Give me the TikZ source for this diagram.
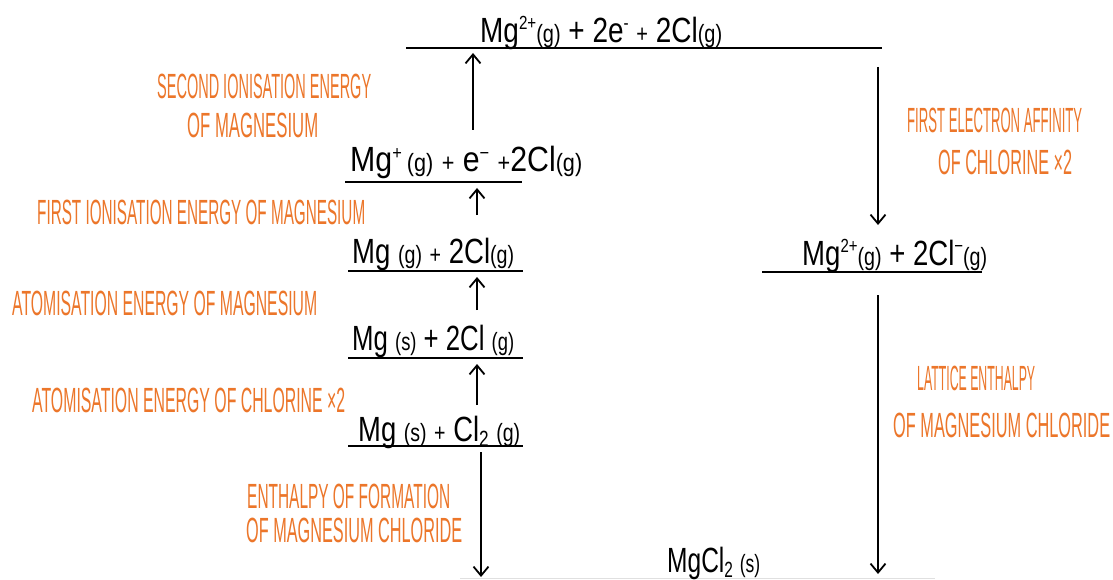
\documentclass[tikz,border=0pt]{standalone}
\usepackage{fontspec}
\usepackage{graphicx}
\setmainfont{Liberation Sans}
\usetikzlibrary{arrows.meta}
\definecolor{lab}{RGB}{236,118,42}
\newcommand{\hw}[2]{\resizebox{#1}{\height}{#2}}
\newcommand{\sm}[1]{{\fontsize{25}{25}\selectfont #1}}
\newcommand{\sups}[1]{\raisebox{13pt}{\fontsize{19}{19}\selectfont #1}}
\newcommand{\subs}[1]{\raisebox{-5pt}{\fontsize{22}{22}\selectfont #1}}
\tikzset{
  lbl/.style={text=lab, inner sep=0pt, anchor=base west, font=\fontsize{35}{35}\selectfont},
  chem/.style={text=black, inner sep=0pt, anchor=base west, font=\fontsize{35}{35}\selectfont},
  level/.style={line width=2.2pt, black},
  faint/.style={line width=1pt, black!12},
  arr/.style={line width=1.8pt, black, -{Straight Barb[length=9pt,width=15pt,line width=1.8pt]}}
}
\begin{document}
\begin{tikzpicture}[x=1pt,y=-1pt]
\useasboundingbox (0,0) rectangle (1113,580);
\fill[white] (0,0) rectangle (1113,580);

% level lines
\coordinate (t1) at (406,48);  \coordinate (t2) at (882,48);
\coordinate (p1) at (345,182); \coordinate (p2) at (522,182);
\coordinate (g1) at (348,271); \coordinate (g2) at (523,271);
\coordinate (s1) at (348,358); \coordinate (s2) at (523,358);
\coordinate (c1) at (348,446); \coordinate (c2) at (523,446);
\coordinate (r1) at (762,272); \coordinate (r2) at (982,272);
\coordinate (b1) at (460,578); \coordinate (b2) at (935,578);
\draw[level] (t1) -- (t2);
\draw[level] (p1) -- (p2);
\draw[level] (g1) -- (g2);
\draw[level] (s1) -- (s2);
\draw[level] (c1) -- (c2);
\draw[level] (r1) -- (r2);
\draw[faint] (b1) -- (b2);

% chemical texts
\node[chem] (top) at (480,43) {\hw{242pt}{Mg\sups{2+}\sm{(g)} + 2e\sups{-} \sm{+} 2Cl\sm{(g)}}};
\node[chem] (mgp) at (350,172) {\hw{232pt}{Mg\sups{+}\,\sm{(g)} \sm{+} e\sups{−} \sm{+}2Cl\sm{(g)}}};
\node[chem] (mgg) at (352,263) {\hw{162pt}{Mg \sm{(g)} \sm{+} 2Cl\sm{(g)}}};
\node[chem] (mgs) at (352,350) {\hw{162pt}{Mg \sm{(s)} + 2Cl \sm{(g)}}};
\node[chem] (mgc) at (358,441) {\hw{162pt}{Mg \sm{(s)} \sm{+} Cl\subs{2} \sm{(g)}}};
\node[chem] (ion) at (802,265) {\hw{185pt}{Mg\sups{2+}\sm{(g)} + 2Cl\sups{−}\sm{(g)}}};
\node[chem] (salt) at (667,572) {\hw{93pt}{MgCl\subs{2} \sm{(s)}}};

% arrows
\coordinate (a1s) at (473,130); \coordinate (a1e) at (473,53);
\coordinate (a2s) at (477,215); \coordinate (a2e) at (477,188);
\coordinate (a3s) at (477,310); \coordinate (a3e) at (477,277);
\coordinate (a4s) at (477,405); \coordinate (a4e) at (477,364);
\coordinate (d1s) at (481,452); \coordinate (d1e) at (481,577);
\coordinate (r1s) at (878,67);  \coordinate (r1e) at (878,225);
\coordinate (r2s) at (878,295); \coordinate (r2e) at (878,574);
\draw[arr] (a1s) -- (a1e);
\draw[arr] (a2s) -- (a2e);
\draw[arr] (a3s) -- (a3e);
\draw[arr] (a4s) -- (a4e);
\draw[arr] (d1s) -- (d1e);
\draw[arr] (r1s) -- (r1e);
\draw[arr] (r2s) -- (r2e);

% orange labels
\node[lbl] (l1a) at (157,99)  {\hw{214pt}{SECOND IONISATION ENERGY}};
\node[lbl] (l1b) at (187,138) {\hw{131pt}{OF MAGNESIUM}};
\node[lbl] (l2)  at (37,225)  {\hw{328pt}{FIRST IONISATION ENERGY OF MAGNESIUM}};
\node[lbl] (l3)  at (12,315)  {\hw{305pt}{ATOMISATION ENERGY OF MAGNESIUM}};
\node[lbl] (l4)  at (32,412)  {\hw{313pt}{ATOMISATION ENERGY OF CHLORINE ×2}};
\node[lbl] (l5a) at (247,508) {\hw{203pt}{ENTHALPY OF FORMATION}};
\node[lbl] (l5b) at (246,542) {\hw{216pt}{OF MAGNESIUM CHLORIDE}};
\node[lbl] (l6a) at (907,133) {\hw{175pt}{FIRST ELECTRON AFFINITY}};
\node[lbl] (l6b) at (938,175) {\hw{134pt}{OF CHLORINE ×2}};
\node[lbl] (l7a) at (917,390) {\hw{118pt}{LATTICE ENTHALPY}};
\node[lbl] (l7b) at (893,437) {\hw{217pt}{OF MAGNESIUM CHLORIDE}};
\end{tikzpicture}
\end{document}
